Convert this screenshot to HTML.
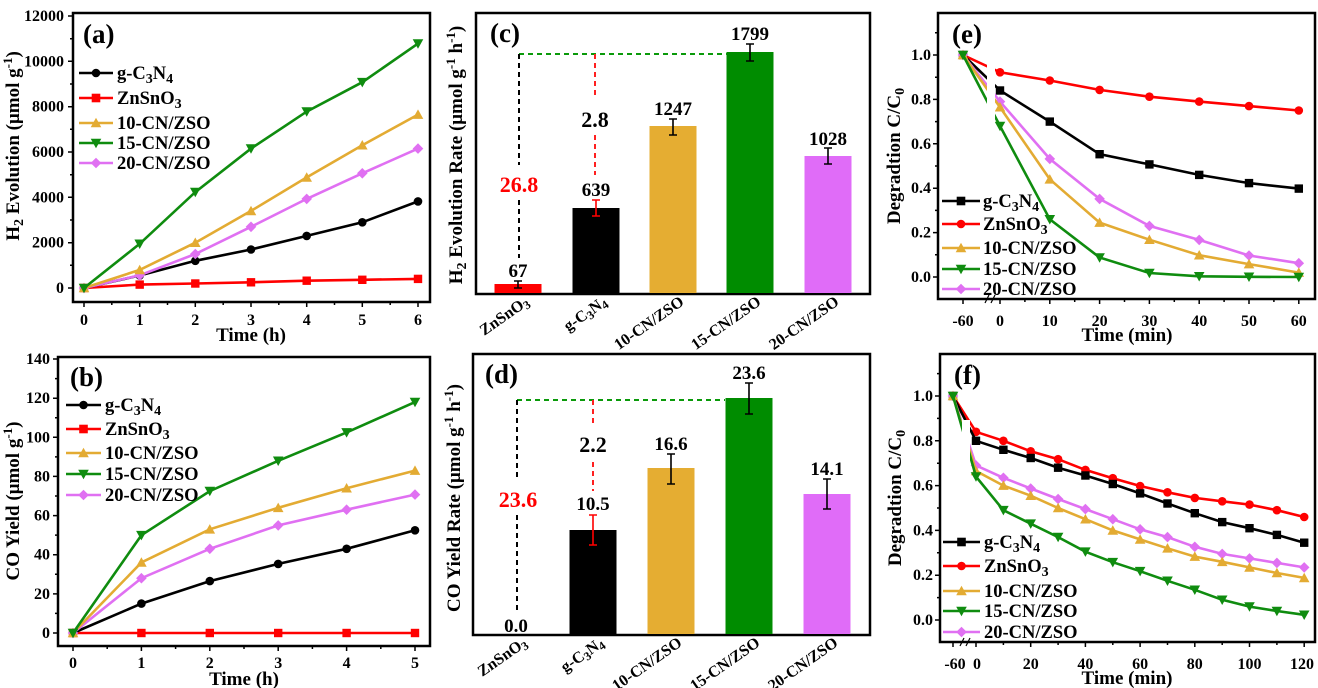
<!DOCTYPE html>
<html><head><meta charset="utf-8"><style>
html,body{margin:0;padding:0;background:#fff;width:1318px;height:688px;overflow:hidden}
svg text{font-family:"Liberation Serif",serif;font-weight:bold}
</style></head><body>
<svg width="1318" height="688" xmlns="http://www.w3.org/2000/svg">
<defs>
<marker id="kc" markerUnits="userSpaceOnUse" markerWidth="12" markerHeight="12" refX="6" refY="6" overflow="visible"><circle cx="6" cy="6" r="4.3" fill="#000"/></marker>
<marker id="rc" markerUnits="userSpaceOnUse" markerWidth="12" markerHeight="12" refX="6" refY="6" overflow="visible"><circle cx="6" cy="6" r="4.3" fill="#ff0000"/></marker>
<marker id="ks" markerUnits="userSpaceOnUse" markerWidth="12" markerHeight="12" refX="6" refY="6" overflow="visible"><rect x="1.8" y="1.8" width="8.4" height="8.4" fill="#000"/></marker>
<marker id="rs" markerUnits="userSpaceOnUse" markerWidth="12" markerHeight="12" refX="6" refY="6" overflow="visible"><rect x="1.8" y="1.8" width="8.4" height="8.4" fill="#ff0000"/></marker>
<marker id="ou" markerUnits="userSpaceOnUse" markerWidth="12" markerHeight="12" refX="6" refY="6" overflow="visible"><polygon points="6,0.8 11.3,10.3 0.7,10.3" fill="#e3ab33"/></marker>
<marker id="gd" markerUnits="userSpaceOnUse" markerWidth="12" markerHeight="12" refX="6" refY="6" overflow="visible"><polygon points="6,11.2 11.3,1.7 0.7,1.7" fill="#0f8c0f"/></marker>
<marker id="vx" markerUnits="userSpaceOnUse" markerWidth="12" markerHeight="12" refX="6" refY="6" overflow="visible"><polygon points="6,0.7 11.3,6 6,11.3 0.7,6" fill="#e070f2"/></marker>
</defs>
<g fill="none" stroke-width="2.6">
<polyline stroke="#ff0000" marker-start="url(#rs)" marker-mid="url(#rs)" marker-end="url(#rs)" points="84,288 139.7,284.6 195.3,283.5 251,282.3 306.7,280.7 362.3,279.8 418,278.9"/>
<polyline stroke="#000" marker-start="url(#kc)" marker-mid="url(#kc)" marker-end="url(#kc)" points="84,288 139.7,275.5 195.3,260.8 251,249.5 306.7,235.9 362.3,222.3 418,201.4"/>
<polyline stroke="#e070f2" marker-start="url(#vx)" marker-mid="url(#vx)" marker-end="url(#vx)" points="84,288 139.7,275.3 195.3,254 251,226.8 306.7,198.9 362.3,173.3 418,148.6"/>
<polyline stroke="#e3ab33" marker-start="url(#ou)" marker-mid="url(#ou)" marker-end="url(#ou)" points="84,288 139.7,269.9 195.3,242.7 251,210.9 306.7,177.4 362.3,145.2 418,114.6"/>
<polyline stroke="#0f8c0f" marker-start="url(#gd)" marker-mid="url(#gd)" marker-end="url(#gd)" points="84,288 139.7,243.8 195.3,192.1 251,148.6 306.7,111.6 362.3,82.2 418,43.6"/>
<polyline stroke="#ff0000" marker-start="url(#rs)" marker-mid="url(#rs)" marker-end="url(#rs)" points="73,633 141.4,633 209.8,633 278.2,633 346.6,633 415,633"/>
<polyline stroke="#000" marker-start="url(#kc)" marker-mid="url(#kc)" marker-end="url(#kc)" points="73,633 141.4,603.6 209.8,581.1 278.2,563.9 346.6,548.8 415,530.3"/>
<polyline stroke="#e070f2" marker-start="url(#vx)" marker-mid="url(#vx)" marker-end="url(#vx)" points="73,633 141.4,578.2 209.8,548.8 278.2,525.4 346.6,509.7 415,494.6"/>
<polyline stroke="#e3ab33" marker-start="url(#ou)" marker-mid="url(#ou)" marker-end="url(#ou)" points="73,633 141.4,562.5 209.8,529.3 278.2,507.8 346.6,488.2 415,470.6"/>
<polyline stroke="#0f8c0f" marker-start="url(#gd)" marker-mid="url(#gd)" marker-end="url(#gd)" points="73,633 141.4,535.2 209.8,491.1 278.2,460.8 346.6,432.4 415,402.1"/>
<polyline stroke="#ff0000" marker-start="url(#rc)" marker-mid="url(#rc)" marker-end="url(#rc)" points="963,55 1000,72.3 1049.8,80.5 1099.6,89.9 1149.4,96.7 1199.2,101.6 1249,106.1 1298.8,110.5"/>
<polyline stroke="#000" marker-start="url(#ks)" marker-mid="url(#ks)" marker-end="url(#ks)" points="963,55 1000,90.5 1049.8,121.6 1099.6,154.2 1149.4,164.4 1199.2,174.9 1249,183.1 1298.8,188.6"/>
<polyline stroke="#e070f2" marker-start="url(#vx)" marker-mid="url(#vx)" marker-end="url(#vx)" points="963,55 1000,101.6 1049.8,158.9 1099.6,198.9 1149.4,225.9 1199.2,239.9 1249,255.5 1298.8,263.2"/>
<polyline stroke="#e3ab33" marker-start="url(#ou)" marker-mid="url(#ou)" marker-end="url(#ou)" points="963,55 1000,107.2 1049.8,179.3 1099.6,222.6 1149.4,239.7 1199.2,255.2 1249,264.1 1298.8,272.6"/>
<polyline stroke="#0f8c0f" marker-start="url(#gd)" marker-mid="url(#gd)" marker-end="url(#gd)" points="963,55 1000,126 1049.8,219.3 1099.6,257.5 1149.4,273 1199.2,276.3 1249,276.8 1298.8,277"/>
<polyline stroke="#ff0000" marker-start="url(#rc)" marker-mid="url(#rc)" marker-end="url(#rc)" points="953,396 976,431.8 1003.4,440.8 1030.7,451.3 1058.1,459.2 1085.4,469.9 1112.8,478.2 1140.1,486 1167.5,492.3 1194.8,497.9 1222.2,501.3 1249.5,504.6 1276.9,510.2 1304.2,517"/>
<polyline stroke="#000" marker-start="url(#ks)" marker-mid="url(#ks)" marker-end="url(#ks)" points="953,396 976,440.8 1003.4,449.8 1030.7,458 1058.1,467.7 1085.4,475.5 1112.8,484 1140.1,493.4 1167.5,503.5 1194.8,513.2 1222.2,522.1 1249.5,528.2 1276.9,534.9 1304.2,542.7"/>
<polyline stroke="#e070f2" marker-start="url(#vx)" marker-mid="url(#vx)" marker-end="url(#vx)" points="953,396 976,465.4 1003.4,477.8 1030.7,488.5 1058.1,499 1085.4,509.1 1112.8,519.2 1140.1,529.3 1167.5,537.1 1194.8,546.8 1222.2,553.9 1249.5,558.4 1276.9,562.9 1304.2,567.4"/>
<polyline stroke="#e3ab33" marker-start="url(#ou)" marker-mid="url(#ou)" marker-end="url(#ou)" points="953,396 976,471 1003.4,485.6 1030.7,495.7 1058.1,508 1085.4,519.2 1112.8,530.4 1140.1,539.4 1167.5,548.3 1194.8,556.6 1222.2,561.8 1249.5,567.4 1276.9,573 1304.2,577.9"/>
<polyline stroke="#0f8c0f" marker-start="url(#gd)" marker-mid="url(#gd)" marker-end="url(#gd)" points="953,396 976,476.6 1003.4,510.2 1030.7,523.7 1058.1,537.1 1085.4,551.7 1112.8,562.2 1140.1,571.2 1167.5,580.8 1194.8,589.8 1222.2,599.8 1249.5,606.6 1276.9,611 1304.2,614.8"/>
</g>
<rect x="987" y="62" width="8" height="234" fill="#fff"/>
<rect x="962" y="420" width="8" height="219" fill="#fff"/>
<g stroke="#000" stroke-width="1.2"><line x1="985" y1="303" x2="989" y2="295"/><line x1="991" y1="303" x2="995" y2="295"/><line x1="960" y1="646" x2="964" y2="638"/><line x1="966" y1="646" x2="970" y2="638"/></g>
<g fill="none" stroke="#000" stroke-width="2.5">
<rect x="73" y="13" width="357" height="289"/>
<rect x="58" y="357" width="372" height="289"/>
<rect x="476" y="13" width="394" height="281"/>
<rect x="473" y="354" width="397" height="281"/>
<rect x="938" y="13" width="377" height="286"/>
<rect x="940" y="354" width="375" height="288"/>
</g>
<g stroke="#000" stroke-width="1.5" fill="none">
<path d="M84,302v5M139.7,302v5M195.3,302v5M251,302v5M306.7,302v5M362.3,302v5M418,302v5M111.8,302v3M167.5,302v3M223.2,302v3M278.8,302v3M334.5,302v3M390.2,302v3
M73,288h-5M73,242.7h-5M73,197.3h-5M73,152h-5M73,106.7h-5M73,61.3h-5M73,16h-5M73,265.3h-3M73,220h-3M73,174.7h-3M73,129.3h-3M73,84h-3M73,38.7h-3"/>
<path d="M73,646v5M141.4,646v5M209.8,646v5M278.2,646v5M346.6,646v5M415,646v5M107.2,646v3M175.6,646v3M244,646v3M312.4,646v3M380.8,646v3
M58,633h-5M58,593.9h-5M58,554.7h-5M58,515.6h-5M58,476.4h-5M58,437.3h-5M58,398.2h-5M58,359h-5M58,613.4h-3M58,574.3h-3M58,535.1h-3M58,496h-3M58,456.9h-3M58,417.7h-3M58,378.6h-3"/>
<path d="M963,299v5M1000,299v5M1049.8,299v5M1099.6,299v5M1149.4,299v5M1199.2,299v5M1249,299v5M1298.8,299v5M1024.9,299v3M1074.7,299v3M1124.5,299v3M1174.3,299v3M1224.1,299v3M1273.9,299v3
M938,277h-5M938,232.6h-5M938,188.2h-5M938,143.8h-5M938,99.4h-5M938,55h-5M938,254.8h-3M938,210.4h-3M938,166h-3M938,121.6h-3M938,77.2h-3M938,32.8h-3"/>
<path d="M953,642v5M976,642v5M1030.7,642v5M1085.4,642v5M1140.1,642v5M1194.8,642v5M1249.5,642v5M1304.2,642v5M1003.4,642v3M1058.1,642v3M1112.8,642v3M1167.5,642v3M1222.2,642v3M1276.9,642v3
M940,620h-5M940,575.2h-5M940,530.4h-5M940,485.6h-5M940,440.8h-5M940,396h-5M940,597.6h-3M940,552.8h-3M940,508h-3M940,463.2h-3M940,418.4h-3M940,373.6h-3"/>
</g>
<g font-size="16" text-anchor="middle">
<text x="84" y="325">0</text><text x="139.7" y="325">1</text><text x="195.3" y="325">2</text><text x="251" y="325">3</text><text x="306.7" y="325">4</text><text x="362.3" y="325">5</text><text x="418" y="325">6</text>
<text x="73" y="668">0</text><text x="141.4" y="668">1</text><text x="209.8" y="668">2</text><text x="278.2" y="668">3</text><text x="346.6" y="668">4</text><text x="415" y="668">5</text>
<text x="963" y="326">-60</text><text x="1000" y="326">0</text><text x="1049.8" y="326">10</text><text x="1099.6" y="326">20</text><text x="1149.4" y="326">30</text><text x="1199.2" y="326">40</text><text x="1249" y="326">50</text><text x="1298.8" y="326">60</text>
<text x="955" y="669">-60</text><text x="977" y="669">0</text><text x="1030.7" y="669">20</text><text x="1085.4" y="669">40</text><text x="1140.1" y="669">60</text><text x="1194.8" y="669">80</text><text x="1249.5" y="669">100</text><text x="1302" y="669">120</text>
</g>
<g font-size="16" text-anchor="end">
<text x="64" y="293">0</text><text x="64" y="247.7">2000</text><text x="64" y="202.3">4000</text><text x="64" y="157">6000</text><text x="64" y="111.7">8000</text><text x="64" y="66.3">10000</text><text x="64" y="21">12000</text>
<text x="50" y="638">0</text><text x="50" y="598.9">20</text><text x="50" y="559.7">40</text><text x="50" y="520.6">60</text><text x="50" y="481.4">80</text><text x="50" y="442.3">100</text><text x="50" y="403.2">120</text><text x="50" y="364">140</text>
<text x="931" y="282">0.0</text><text x="931" y="237.6">0.2</text><text x="931" y="193.2">0.4</text><text x="931" y="148.8">0.6</text><text x="931" y="104.4">0.8</text><text x="931" y="60">1.0</text>
<text x="933" y="625">0.0</text><text x="933" y="580.2">0.2</text><text x="933" y="535.4">0.4</text><text x="933" y="490.6">0.6</text><text x="933" y="445.8">0.8</text><text x="933" y="401">1.0</text>
</g>
<g font-size="19" text-anchor="middle">
<text x="251" y="341">Time (h)</text>
<text x="244" y="685">Time (h)</text>
<text x="1127" y="341">Time (min)</text>
<text x="1127" y="684">Time (min)</text>
<text transform="rotate(-90 19 146)" x="19" y="146">H<tspan font-size="14" dy="4">2</tspan><tspan dy="-4"> Evolution (μmol g</tspan><tspan font-size="13" dy="-7">-1</tspan><tspan dy="7">)</tspan></text>
<text transform="rotate(-90 19 501)" x="19" y="501">CO Yield (μmol g<tspan font-size="13" dy="-7">-1</tspan><tspan dy="7">)</tspan></text>
<text transform="rotate(-90 462 155)" x="462" y="155">H<tspan font-size="14" dy="4">2</tspan><tspan dy="-4"> Evolution Rate (μmol g</tspan><tspan font-size="13" dy="-7">-1</tspan><tspan dy="7"> h</tspan><tspan font-size="13" dy="-7">-1</tspan><tspan dy="7">)</tspan></text>
<text transform="rotate(-90 460 498)" x="460" y="498">CO Yield Rate (μmol g<tspan font-size="13" dy="-7">-1</tspan><tspan dy="7"> h</tspan><tspan font-size="13" dy="-7">-1</tspan><tspan dy="7">)</tspan></text>
<text transform="rotate(-90 900 156)" x="900" y="156">Degradtion C/C<tspan font-size="14" dy="4">0</tspan></text>
<text transform="rotate(-90 901 498)" x="901" y="498">Degradtion C/C<tspan font-size="14" dy="4">0</tspan></text>
</g>
<g font-size="27">
<text x="83" y="43">(a)</text><text x="70" y="386">(b)</text><text x="490" y="42">(c)</text><text x="485" y="383">(d)</text><text x="952" y="43">(e)</text><text x="954" y="384">(f)</text>
</g>
<g stroke-width="2.6">
<line x1="79" y1="73" x2="113" y2="73" stroke="#000"/>
<line x1="79" y1="98" x2="113" y2="98" stroke="#ff0000"/>
<line x1="79" y1="123" x2="113" y2="123" stroke="#e3ab33"/>
<line x1="79" y1="143" x2="113" y2="143" stroke="#0f8c0f"/>
<line x1="79" y1="163" x2="113" y2="163" stroke="#e070f2"/>
<line x1="66" y1="405" x2="101" y2="405" stroke="#000"/>
<line x1="66" y1="429" x2="101" y2="429" stroke="#ff0000"/>
<line x1="66" y1="453" x2="101" y2="453" stroke="#e3ab33"/>
<line x1="66" y1="474" x2="101" y2="474" stroke="#0f8c0f"/>
<line x1="66" y1="495" x2="101" y2="495" stroke="#e070f2"/>
<line x1="942" y1="201" x2="980" y2="201" stroke="#000"/>
<line x1="942" y1="224" x2="980" y2="224" stroke="#ff0000"/>
<line x1="942" y1="248" x2="980" y2="248" stroke="#e3ab33"/>
<line x1="942" y1="269" x2="980" y2="269" stroke="#0f8c0f"/>
<line x1="942" y1="289" x2="980" y2="289" stroke="#e070f2"/>
<line x1="943" y1="542" x2="980" y2="542" stroke="#000"/>
<line x1="943" y1="566" x2="980" y2="566" stroke="#ff0000"/>
<line x1="943" y1="591" x2="980" y2="591" stroke="#e3ab33"/>
<line x1="943" y1="611" x2="980" y2="611" stroke="#0f8c0f"/>
<line x1="943" y1="632" x2="980" y2="632" stroke="#e070f2"/>
</g>
<g>
<circle cx="96" cy="73" r="4.3" fill="#000"/><rect x="91.7" y="93.7" width="8.6" height="8.6" fill="#ff0000"/>
<polygon points="96,117.7 101.3,127.3 90.7,127.3" fill="#e3ab33"/><polygon points="96,148.3 101.3,138.7 90.7,138.7" fill="#0f8c0f"/><polygon points="96,157.7 101.3,163 96,168.3 90.7,163" fill="#e070f2"/>
<circle cx="83.5" cy="405" r="4.3" fill="#000"/><rect x="79.2" y="424.7" width="8.6" height="8.6" fill="#ff0000"/>
<polygon points="83.5,447.7 88.8,457.3 78.2,457.3" fill="#e3ab33"/><polygon points="83.5,479.3 88.8,469.7 78.2,469.7" fill="#0f8c0f"/><polygon points="83.5,489.7 88.8,495 83.5,500.3 78.2,495" fill="#e070f2"/>
<rect x="956.7" y="196.7" width="8.6" height="8.6" fill="#000"/><circle cx="961" cy="224" r="4.3" fill="#ff0000"/>
<polygon points="961,242.7 966.3,252.3 955.7,252.3" fill="#e3ab33"/><polygon points="961,274.3 966.3,264.7 955.7,264.7" fill="#0f8c0f"/><polygon points="961,283.7 966.3,289 961,294.3 955.7,289" fill="#e070f2"/>
<rect x="957.2" y="537.7" width="8.6" height="8.6" fill="#000"/><circle cx="961.5" cy="566" r="4.3" fill="#ff0000"/>
<polygon points="961.5,585.7 966.8,595.3 956.2,595.3" fill="#e3ab33"/><polygon points="961.5,616.3 966.8,606.7 956.2,606.7" fill="#0f8c0f"/><polygon points="961.5,626.7 966.8,632 961.5,637.3 956.2,632" fill="#e070f2"/>
</g>
<g font-size="18.5">
<text x="117" y="79">g-C<tspan font-size="14" dy="4">3</tspan><tspan dy="-4">N</tspan><tspan font-size="14" dy="4">4</tspan></text>
<text x="117" y="104">ZnSnO<tspan font-size="14" dy="4">3</tspan></text>
<text x="117" y="129">10-CN/ZSO</text><text x="117" y="149">15-CN/ZSO</text><text x="117" y="169">20-CN/ZSO</text>
<text x="105" y="411">g-C<tspan font-size="14" dy="4">3</tspan><tspan dy="-4">N</tspan><tspan font-size="14" dy="4">4</tspan></text>
<text x="105" y="435">ZnSnO<tspan font-size="14" dy="4">3</tspan></text>
<text x="105" y="459">10-CN/ZSO</text><text x="105" y="480">15-CN/ZSO</text><text x="105" y="501">20-CN/ZSO</text>
<text x="983" y="207">g-C<tspan font-size="14" dy="4">3</tspan><tspan dy="-4">N</tspan><tspan font-size="14" dy="4">4</tspan></text>
<text x="983" y="230">ZnSnO<tspan font-size="14" dy="4">3</tspan></text>
<text x="983" y="254">10-CN/ZSO</text><text x="983" y="275">15-CN/ZSO</text><text x="983" y="295">20-CN/ZSO</text>
<text x="984" y="548">g-C<tspan font-size="14" dy="4">3</tspan><tspan dy="-4">N</tspan><tspan font-size="14" dy="4">4</tspan></text>
<text x="984" y="572">ZnSnO<tspan font-size="14" dy="4">3</tspan></text>
<text x="984" y="597">10-CN/ZSO</text><text x="984" y="617">15-CN/ZSO</text><text x="984" y="638">20-CN/ZSO</text>
</g>
<rect x="494.5" y="284" width="47" height="9" fill="#ff0000"/>
<rect x="572.5" y="208" width="47" height="85" fill="#000"/>
<rect x="649.5" y="126" width="47" height="167" fill="#e5ad32"/>
<rect x="726.5" y="52" width="47" height="241" fill="#008c00"/>
<rect x="804.5" y="156" width="47" height="137" fill="#e06cf8"/>
<rect x="569.5" y="530" width="47" height="104" fill="#000"/>
<rect x="647.5" y="468" width="47" height="166" fill="#e5ad32"/>
<rect x="725.5" y="398" width="47" height="236" fill="#008c00"/>
<rect x="803.5" y="494" width="47" height="140" fill="#e06cf8"/>
<g stroke-width="1.6" fill="none">
<path stroke="#000" d="M518,281V288M514,281h8M514,288h8 M673,119V135M669,119h8M669,135h8 M750,44V61M746,44h8M746,61h8 M828,148V164M824,148h8M824,164h8"/>
<path stroke="#ff0000" d="M596,200V216M592,200h8M592,216h8 M593,515V545M589,515h8M589,545h8"/>
<path stroke="#000" d="M671,454V484M667,454h8M667,484h8 M749,383V414M745,383h8M745,414h8 M827,479V509M823,479h8M823,509h8"/>
</g>
<g stroke-width="2" fill="none" stroke-dasharray="5,4">
<path stroke="#0a9a0a" d="M519,54H727 M517,400H725"/>
<path stroke="#000" d="M519,54V165 M519,200V258 M517,400V478 M517,515V610"/>
<path stroke="#ff2020" d="M595,54V98 M595,135V175 M593,400V425 M593,462V491"/>
</g>
<g font-size="19" text-anchor="middle">
<text x="518" y="277">67</text><text x="596" y="196">639</text><text x="673" y="115">1247</text><text x="750" y="40">1799</text><text x="828" y="145">1028</text>
<text x="516" y="632">0.0</text><text x="593" y="510">10.5</text><text x="671" y="450">16.6</text><text x="749" y="379">23.6</text><text x="827" y="475">14.1</text>
</g>
<g font-size="22" text-anchor="middle">
<text x="519" y="192" fill="#ff0000">26.8</text><text x="595" y="127">2.8</text>
<text x="518" y="507" fill="#ff0000">23.6</text><text x="593" y="452">2.2</text>
</g>
<g font-size="16" text-anchor="end">
<text transform="rotate(-35 530 304)" x="530" y="304">ZnSnO<tspan font-size="12" dy="3">3</tspan></text>
<text transform="rotate(-35 608 304)" x="608" y="304">g-C<tspan font-size="12" dy="3">3</tspan><tspan dy="-3">N</tspan><tspan font-size="12" dy="3">4</tspan></text>
<text transform="rotate(-35 685 304)" x="685" y="304">10-CN/ZSO</text>
<text transform="rotate(-35 762 304)" x="762" y="304">15-CN/ZSO</text>
<text transform="rotate(-35 840 304)" x="840" y="304">20-CN/ZSO</text>
<text transform="rotate(-35 528 645)" x="528" y="645">ZnSnO<tspan font-size="12" dy="3">3</tspan></text>
<text transform="rotate(-35 605 645)" x="605" y="645">g-C<tspan font-size="12" dy="3">3</tspan><tspan dy="-3">N</tspan><tspan font-size="12" dy="3">4</tspan></text>
<text transform="rotate(-35 683 645)" x="683" y="645">10-CN/ZSO</text>
<text transform="rotate(-35 761 645)" x="761" y="645">15-CN/ZSO</text>
<text transform="rotate(-35 839 645)" x="839" y="645">20-CN/ZSO</text>
</g>
</svg>
</body></html>
